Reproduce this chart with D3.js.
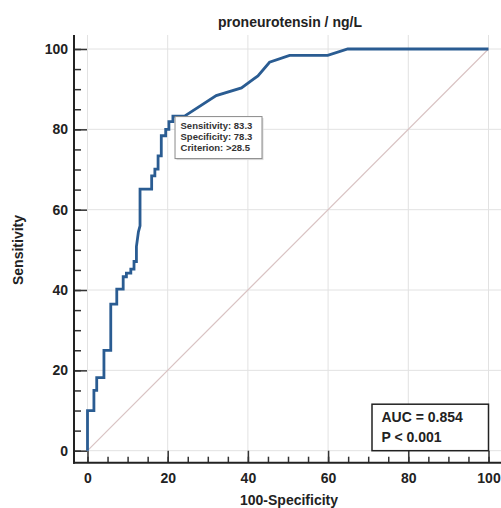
<!DOCTYPE html>
<html>
<head>
<meta charset="utf-8">
<script src="https://cdn.jsdelivr.net/npm/d3@7"></script>
<style>
  body { margin: 0; background: #fff; }
  text { font-family: "Liberation Sans", Arial, sans-serif; font-weight: bold; }
</style>
</head>
<body>
<div id="area"></div>
<script>
// ROC curve vertices (x = 100-Specificity, y = Sensitivity)
var fpr  = [0, 0, 1.6, 1.6, 2.3, 2.3, 4.1, 4.1, 5.8, 5.8, 7.3, 7.3, 8.9, 8.9, 9.7, 9.7,
            10.8, 10.8, 11.6, 11.6, 12.2, 12.2, 12.7, 13.1, 13.1, 16, 16, 16.8, 16.8,
            17.6, 17.6, 18.4, 18.4, 19.5, 19.5, 20.3, 20.3, 21.3, 21.3, 24.2,
            32.1, 38.4, 42.5, 45.4, 50.4, 59.9, 64.9, 100];
var sens = [0, 10, 10, 15, 15, 18.2, 18.2, 25, 25, 36.5, 36.5, 40.2, 40.2, 43.3, 43.3, 44.2,
            44.2, 45.2, 45.2, 47.1, 47.1, 50.8, 54.5, 56, 65.1, 65.1, 68.4, 68.4, 70.1,
            70.1, 73.4, 73.4, 78.4, 78.4, 80, 80, 81.9, 81.9, 83.3, 83.3,
            88.4, 90.3, 93.3, 96.7, 98.4, 98.4, 100, 100];

var majorTicks = [0, 20, 40, 60, 80, 100];
var minorTicks = d3.range(0, 101, 5);

var criterion = { x: 21.7, y: 83.3 };
var criterionLines = ["Sensitivity: 83.3", "Specificity: 78.3", "Criterion: >28.5"];
var aucLines = ["AUC = 0.854", "P < 0.001"];

var title = "proneurotensin / ng/L";
var xTitle = "100-Specificity";
var yTitle = "Sensitivity";

var width = 501, height = 508;
var frame_left = 74, frame_right = 501, frame_top = 35, frame_bottom = 462.7;

var svg = d3.select("#area")
.append("svg")
  .attr("width", width)
  .attr("height", height);

var x = d3.scaleLinear().domain([0, 100]).range([87.5, 488.5]);
var y = d3.scaleLinear().domain([0, 100]).range([450.7, 49]);

// grid
svg.append("g")
.selectAll("line")
.data(majorTicks)
.enter()
.append("line")
  .attr("x1", function(d) { return x(d); })
  .attr("x2", function(d) { return x(d); })
  .attr("y1", frame_top)
  .attr("y2", frame_bottom)
  .style("stroke", "#e2e2e2")
  .style("stroke-width", 1);

svg.append("g")
.selectAll("line")
.data(majorTicks)
.enter()
.append("line")
  .attr("x1", frame_left)
  .attr("x2", frame_right)
  .attr("y1", function(d) { return y(d); })
  .attr("y2", function(d) { return y(d); })
  .style("stroke", "#e2e2e2")
  .style("stroke-width", 1);

// reference diagonal
svg.append("line")
  .attr("x1", x(0)).attr("y1", y(0))
  .attr("x2", x(100)).attr("y2", y(100))
  .style("stroke", "#d9c3c3")
  .style("stroke-width", 1.2);

// axes (ticks point inward from the offset axis line)
var yAxis = svg.append("g")
  .attr("transform", "translate(" + frame_left + ",0)")
  .call(d3.axisLeft(y).tickValues(majorTicks).tickSizeInner(-13).tickSizeOuter(0).tickPadding(6));
yAxis.select(".domain").remove();

var yMinor = svg.append("g")
  .attr("transform", "translate(" + frame_left + ",0)")
  .call(d3.axisLeft(y).tickValues(minorTicks).tickSizeInner(-7).tickSizeOuter(0).tickFormat(""));
yMinor.select(".domain").remove();

var xAxis = svg.append("g")
  .attr("transform", "translate(0," + frame_bottom + ")")
  .call(d3.axisBottom(x).tickValues(majorTicks).tickSizeInner(-12).tickSizeOuter(0).tickPadding(10));
xAxis.select(".domain").remove();

var xMinor = svg.append("g")
  .attr("transform", "translate(0," + frame_bottom + ")")
  .call(d3.axisBottom(x).tickValues(minorTicks).tickSizeInner(-6).tickSizeOuter(0).tickFormat(""));
xMinor.select(".domain").remove();

svg.selectAll(".tick line").style("stroke", "#333").style("stroke-width", 1.5);
svg.selectAll(".tick text")
  .style("font-size", "14px")
  .style("font-family", "'Liberation Sans', Arial, sans-serif")
  .style("font-weight", "bold")
  .style("fill", "#222");

svg.append("line")
  .attr("x1", frame_left).attr("x2", frame_left)
  .attr("y1", frame_top).attr("y2", frame_bottom + 1)
  .style("stroke", "#222").style("stroke-width", 2);
svg.append("line")
  .attr("x1", frame_left - 1).attr("x2", frame_right)
  .attr("y1", frame_bottom).attr("y2", frame_bottom)
  .style("stroke", "#222").style("stroke-width", 2);

// ROC curve
var pts = fpr.map(function(d, i) { return [d, sens[i]]; });
var line = d3.line()
  .x(function(d) { return x(d[0]); })
  .y(function(d) { return y(d[1]); });

svg.append("path")
  .datum(pts)
  .attr("d", line)
  .style("fill", "none")
  .style("stroke", "#2a5c92")
  .style("stroke-width", 2.8)
  .style("stroke-linejoin", "miter");

// criterion label box
var cx = x(criterion.x) + 0.5, cy = y(criterion.y) + 0.5;
svg.append("rect")
  .attr("x", cx + 1.5).attr("y", cy + 1.5)
  .attr("width", 87).attr("height", 42)
  .style("fill", "#ddd");
svg.append("rect")
  .attr("x", cx).attr("y", cy)
  .attr("width", 87).attr("height", 42)
  .style("fill", "#fff")
  .style("stroke", "#8a8a8a")
  .style("stroke-width", 1);
svg.append("g")
.selectAll("text")
.data(criterionLines)
.enter()
.append("text")
  .attr("x", cx + 5.5)
  .attr("y", function(d, i) { return cy + 12.5 + i * 11; })
  .style("font-size", "9.5px")
  .style("fill", "#333")
  .text(function(d) { return d; });

// AUC box
var bx = x(100), by = y(0);
svg.append("rect")
  .attr("x", bx - 116.5).attr("y", by - 46.5)
  .attr("width", 116.5).attr("height", 46.5)
  .style("fill", "#fff")
  .style("stroke", "#222")
  .style("stroke-width", 1.5);
svg.append("g")
.selectAll("text")
.data(aucLines)
.enter()
.append("text")
  .attr("x", bx - 107)
  .attr("y", function(d, i) { return by - 28.5 + i * 19.5; })
  .style("font-size", "14px")
  .style("fill", "#222")
  .text(function(d) { return d; });

// titles
svg.append("text")
  .attr("x", 290).attr("y", 27)
  .attr("text-anchor", "middle")
  .style("font-size", "14px")
  .style("fill", "#222")
  .text(title);

svg.append("text")
  .attr("x", 289).attr("y", 505)
  .attr("text-anchor", "middle")
  .style("font-size", "14px")
  .style("fill", "#222")
  .text(xTitle);

svg.append("text")
  .attr("transform", "translate(23,250) rotate(-90)")
  .attr("text-anchor", "middle")
  .style("font-size", "14px")
  .style("fill", "#222")
  .text(yTitle);
</script>
</body>
</html>
